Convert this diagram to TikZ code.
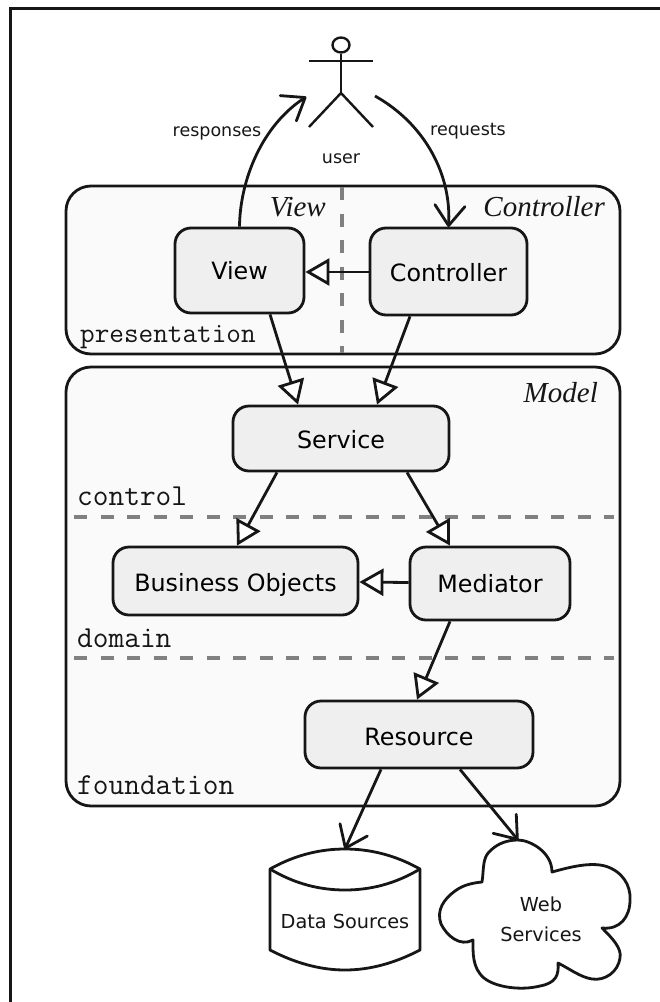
\documentclass[tikz,border=0pt]{standalone}
\usepackage{fontspec}
\setmainfont{DejaVu Sans}
\newfontfamily\ital{Liberation Serif}[ItalicFont=* Italic]
\usetikzlibrary{arrows.meta,shapes.geometric}
\definecolor{layerfill}{HTML}{FAFAFA}
\definecolor{boxfill}{HTML}{EFEFEF}
\definecolor{ink}{HTML}{161616}
\definecolor{dashgray}{HTML}{808080}
\pgfdeclarearrow{
  name=VBarb,
  setup code={\pgfarrowssettipend{1pt}\pgfarrowssetlineend{0pt}\pgfarrowssetbackend{-20pt}},
  drawing code={\pgfsetdash{}{0pt}\pgfsetroundjoin\pgfsetroundcap
    \pgfpathmoveto{\pgfpoint{-20pt}{15pt}}\pgfpathlineto{\pgfpointorigin}\pgfpathlineto{\pgfpoint{-20pt}{-15pt}}\pgfusepathqstroke},
  defaults={}
}
\newcommand{\boxtext}[2]{\raisebox{-#1pt}[0pt][0pt]{#2}}
\tikzset{
  layer/.style={draw=ink,line width=2.8pt,fill=layerfill,rounded corners=25pt},
  compbox/.style={draw=ink,line width=2.8pt,fill=boxfill,rounded corners=16pt,inner sep=0pt,font=\fontsize{23.8}{26}\selectfont},
  divider/.style={draw=dashgray,line width=3.2pt,dash pattern=on 13.3pt off 13.2pt},
  monolabel/.style={anchor=base west,inner sep=0pt,font=\ttfamily\fontsize{30.5}{32}\selectfont,text=ink},
  patlabel/.style={anchor=base east,inner sep=0pt,font=\ital\itshape\fontsize{29}{32}\selectfont,text=ink},
  small/.style={inner sep=0pt,font=\fontsize{17.5}{20}\selectfont,text=ink},
  storelabel/.style={inner sep=0pt,align=center,font=\fontsize{19.3}{30}\selectfont,text=ink},
  shapeline/.style={draw=ink,line width=2.8pt,line join=round},
  flow/.style={draw=ink,line width=2.8pt,-{VBarb}},
  dep/.style={draw=ink,line width=2.8pt,-{Triangle[open,length=24pt,width=27pt,line width=2.8pt,fill=white]}},
}
\begin{document}
\begin{tikzpicture}[x=1pt,y=-1pt]
\useasboundingbox (0,0) rectangle (660,1002);
\draw[ink,line width=3pt] (10,1002) -- (10,8) -- (660,8);

% layers
\node[layer,minimum width=554pt,minimum height=168pt,inner sep=0pt] (presentation) at (343,270) {};
\node[layer,minimum width=554pt,minimum height=439pt,inner sep=0pt] (model) at (343,586.5) {};

% dividers
\coordinate (vtop) at (342,187);
\coordinate (vbot) at (342,353);
\coordinate (c1) at (74,517);
\coordinate (c2) at (614,517);
\coordinate (d1) at (74,658);
\coordinate (d2) at (614,658);
\draw[divider] (vtop) -- (vbot);
\draw[divider] (c1) -- (c2);
\draw[divider] (d1) -- (d2);

% layer labels
\node[monolabel,font=\ttfamily\fontsize{28.4}{32}\selectfont] (lpres) at (80,342) {presentation};
\node[monolabel] (lcontrol) at (77,505) {control};
\node[monolabel] (ldomain) at (77,647) {domain};
\node[monolabel] (lfound) at (77,794) {foundation};
\node[patlabel] (pview) at (326,216) {View};
\node[patlabel] (pctrl) at (605,216) {Controller};
\node[patlabel] (pmodel) at (598,402) {Model};

% components
\node[compbox,minimum width=129pt,minimum height=85pt] (view) at (239.5,270.5) {\boxtext{8.5}{View}};
\node[compbox,minimum width=157pt,minimum height=87pt] (ctrl) at (448.5,271.5) {\boxtext{10}{Controller}};
\node[compbox,minimum width=216pt,minimum height=65pt] (service) at (341,438.5) {\boxtext{9.5}{Service}};
\node[compbox,minimum width=245pt,minimum height=68pt] (bo) at (235.5,581) {\boxtext{10}{Business Objects}};
\node[compbox,minimum width=160pt,minimum height=73pt] (med) at (490,583.5) {\boxtext{9}{Mediator}};
\node[compbox,minimum width=228pt,minimum height=67pt] (res) at (419,734.5) {\boxtext{10.5}{Resource}};

% actor
\node[draw=ink,line width=2.4pt,ellipse,minimum width=17pt,minimum height=15pt,inner sep=0pt] (head) at (341,45) {};
\coordinate (armL) at (309,61);
\coordinate (armR) at (373,61);
\coordinate (hip) at (341,93);
\coordinate (legL) at (309,127);
\coordinate (legR) at (373,127);
\draw[shapeline,line width=2.4pt] (head.south) -- (hip);
\draw[shapeline,line width=2.4pt] (armL) -- (armR);
\draw[shapeline,line width=2.4pt] (legL) -- (hip) -- (legR);
\node[small] (user) at (341,159) {user};
\coordinate (actorIn) at (306,97);
\coordinate (actorOut) at (375,96);

% data store
\coordinate (dsTop) at (345,849);
\draw[shapeline,fill=white] (270,869) .. controls (295,855) and (320,849) .. (dsTop) .. controls (370,849) and (395,855) .. (420,869)
  -- (420,950) .. controls (395,963) and (370,970) .. (345,970) .. controls (320,970) and (295,963) .. (270,950) -- cycle;
\draw[shapeline] (270,869) .. controls (295,884) and (320,890) .. (345,890) .. controls (370,890) and (395,884) .. (420,869);
\node[storelabel] (ds) at (345,921) {Data Sources};

% cloud
\coordinate (webTop) at (518,840);
\draw[shapeline,fill=white] (482,882)
  .. controls (484,870) and (482,858) .. (490,851)
  .. controls (498,843) and (508,840) .. (webTop)
  .. controls (530,840) and (552,852) .. (552,872)
  .. controls (570,867) and (590,862) .. (605,866)
  .. controls (622,871) and (631,885) .. (630,900)
  .. controls (630,917) and (620,930) .. (602,928)
  .. controls (612,938) and (622,948) .. (620,958)
  .. controls (618,972) and (605,981) .. (592,979)
  .. controls (580,977) and (570,969) .. (558,963)
  .. controls (559,975) and (556,983) .. (540,986)
  .. controls (520,991) and (495,987) .. (484,978)
  .. controls (472,968) and (473,952) .. (473,940)
  .. controls (460,947) and (447,936) .. (441,924)
  .. controls (436,910) and (444,899) .. (455,891)
  .. controls (463,885) and (472,883) .. (482,882) -- cycle;
\node[storelabel] (web) at (541,919) {Web\\Services};

% connectors
\draw[flow] (view.north) .. controls (240,180) and (262,125) .. (actorIn);
\draw[flow] (actorOut) .. controls (425,124) and (452,175) .. (ctrl.north);
\node[small,anchor=east] (lresp) at (261.5,133) {responses};
\node[small,anchor=west] (lreq) at (430,131) {requests};

\draw[dep] ([yshift=-0.5]ctrl.west) -- ([yshift=-1.5]view.east);
\draw[dep] ([xshift=30.5]view.south) -- ([xshift=-43]service.north);
\draw[dep] ([xshift=-38.5]ctrl.south) -- ([xshift=36]service.north);
\draw[dep] ([xshift=-64]service.south) -- ([xshift=1.5]bo.north);
\draw[dep] ([xshift=66]service.south) -- ([xshift=-40]med.north);
\draw[dep] ([yshift=1]med.west) -- ([yshift=-1]bo.east);
\draw[dep] ([xshift=-40]med.south) -- ([xshift=-2]res.north);
\draw[flow] ([xshift=-38]res.south) -- (dsTop);
\draw[flow] ([xshift=41]res.south) -- (webTop);
\end{tikzpicture}
\end{document}
